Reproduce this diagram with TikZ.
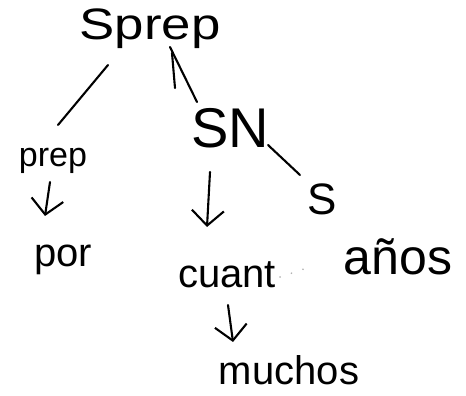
\documentclass[tikz,border=0pt]{standalone}
\usepackage{fontspec}
\setmainfont{Liberation Sans}
\usetikzlibrary{arrows.meta,calc}
\begin{document}
\begin{tikzpicture}[x=1pt,y=1pt,
  lbl/.style={anchor=base,inner sep=0pt,outer sep=0pt},
  edge/.style={line width=2.1pt,line cap=round},
  darr/.style={edge,-{Straight Barb[length=15pt,width=32pt]}},
  dotline/.style={gray!60,line width=1.8pt,line cap=round,dash pattern=on 0.1pt off 12pt}]
\useasboundingbox (0,0) rectangle (466,396);
\node[lbl,xscale=1.2,font=\fontsize{44}{48}\selectfont] (Sprep) at (150,356) {Sprep};
\node[lbl,font=\fontsize{34}{38}\selectfont] (prep) at (53,229) {prep};
\node[lbl,font=\fontsize{56}{60}\selectfont] (SN) at (230,248) {SN};
\node[lbl,font=\fontsize{44}{48}\selectfont] (S) at (322,181) {S};
\node[lbl,font=\fontsize{40}{44}\selectfont] (por) at (63,129) {por};
\node[lbl,font=\fontsize{40}{44}\selectfont] (cuant) at (227,108) {cuant};
\node[lbl,font=\fontsize{50}{54}\selectfont] (anos) at (398,121) {años};
\node[lbl,font=\fontsize{40}{44}\selectfont] (muchos) at (289,11) {muchos};
% connectors
\draw[edge] ($(Sprep.base)+(-42,-25)$) -- ($(prep.base)+(5,42)$);
\draw[edge] ($(Sprep.base)+(20,-7)$) -- ($(SN.base)+(-33,46)$);
\draw[edge] ($(Sprep.base)+(22,-13)$) -- ($(Sprep.base)+(25,-48)$);
\draw[edge] ($(SN.base)+(38,3)$) -- ($(S.base)+(-22,40)$);
\draw[darr] ($(prep.base)+(-3,-15)$) -- ($(por.base)+(-18,51)$);
\draw[darr] ($(SN.base)+(-20,-24)$) -- ($(cuant.base)+(-20,61)$);
\draw[darr] ($(cuant.base)+(1,-17)$) -- ($(muchos.base)+(-56,43)$);
\draw[dotline] ($(cuant.base)+(53,11)$) -- ($(anos.base)+(-85,9)$);
\end{tikzpicture}
\end{document}
